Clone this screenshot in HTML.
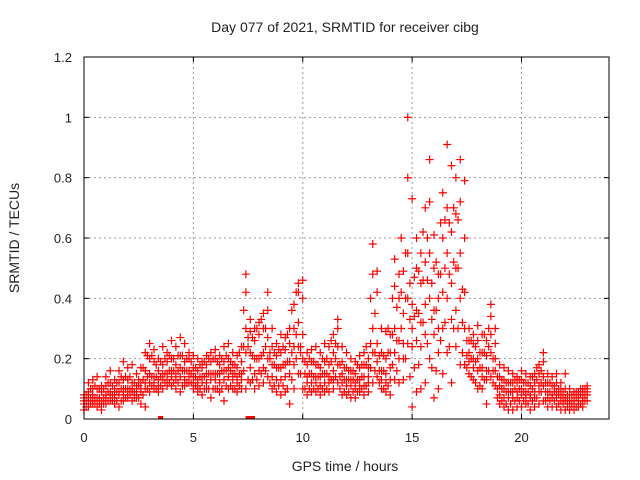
<!DOCTYPE html>
<html><head><meta charset="utf-8"><style>
html,body{margin:0;padding:0;background:#fff;width:640px;height:480px;overflow:hidden}
text{font-family:"Liberation Sans",sans-serif;fill:#222}
</style></head><body>
<svg id="chart" width="640" height="480" xmlns="http://www.w3.org/2000/svg">
<text x="345" y="32" font-size="14" text-anchor="middle">Day 077 of 2021, SRMTID for receiver cibg</text>
<text x="345" y="471" font-size="14" text-anchor="middle">GPS time / hours</text>
<text x="19" y="238" font-size="14" text-anchor="middle" transform="rotate(-90 19 238)">SRMTID / TECUs</text>
<g id="grid"></g>
<g id="ticks"></g>
<g id="marks"></g>
<rect x="84" y="57" width="525" height="362" fill="none" stroke="#000" stroke-width="1"/>
</svg>
<script>
const xTicks = [0, 5, 10, 15, 20];
const yTicks = [0, 0.2, 0.4, 0.6, 0.8, 1, 1.2];
const hours = [0,0.2,0.4,0.6,0.8,1,1.2,1.4,1.6,1.8,2,2.2,2.4,2.6,2.8,3,3.2,3.4,3.6,3.8,4,4.2,4.4,4.6,4.8,5,5.2,5.4,5.6,5.8,6,6.2,6.4,6.6,6.8,7,7.2,7.4,7.6,7.8,8,8.2,8.4,8.6,8.8,9,9.2,9.4,9.6,9.8,10,10.2,10.4,10.6,10.8,11,11.2,11.4,11.6,11.8,12,12.2,12.4,12.6,12.8,13,13.2,13.4,13.6,13.8,14,14.2,14.4,14.6,14.8,15,15.2,15.4,15.6,15.8,16,16.2,16.4,16.6,16.8,17,17.2,17.4,17.6,17.8,18,18.2,18.4,18.6,18.8,19,19.2,19.4,19.6,19.8,20,20.2,20.4,20.6,20.8,21,21.2,21.4,21.6,21.8,22,22.2,22.4,22.6,22.8,23];
const valsHigh = [.08,.12,.13,.14,.11,.14,.16,.13,.16,.19,.17,.18,.15,.17,.22,.25,.23,.20,.24,.22,.26,.24,.27,.25,.22,.21,.20,.19,.21,.22,.23,.21,.24,.25,.22,.21,.24,.48,.33,.30,.32,.35,.42,.30,.25,.28,.27,.30,.38,.45,.46,.22,.23,.24,.22,.25,.24,.28,.33,.24,.22,.20,.19,.21,.22,.20,.58,.49,.30,.29,.28,.53,.48,.49,1.0,.73,.60,.55,.70,.86,.61,.48,.75,.91,.84,.80,.86,.79,.30,.28,.31,.28,.26,.38,.30,.18,.17,.16,.15,.14,.16,.15,.14,.15,.18,.22,.15,.14,.15,.12,.15,.10,.09,.09,.10,.11];
const valsUpper = [.07,.09,.10,.10,.09,.11,.12,.10,.12,.13,.13,.12,.11,.12,.16,.20,.19,.16,.18,.19,.20,.18,.21,.19,.20,.17,.16,.17,.18,.19,.20,.18,.19,.20,.18,.17,.19,.42,.29,.26,.28,.30,.36,.24,.21,.22,.23,.25,.30,.42,.40,.18,.19,.18,.17,.19,.18,.22,.30,.19,.17,.16,.15,.17,.18,.17,.48,.42,.22,.20,.22,.44,.40,.35,.80,.38,.50,.45,.52,.72,.50,.40,.60,.70,.62,.68,.72,.60,.26,.25,.26,.22,.21,.34,.25,.14,.13,.12,.12,.12,.13,.12,.11,.12,.15,.19,.12,.11,.12,.10,.10,.08,.08,.08,.09,.10];
const valsMid = [.06,.07,.08,.07,.06,.08,.09,.08,.09,.10,.10,.10,.09,.10,.12,.15,.14,.13,.15,.15,.16,.15,.17,.16,.16,.14,.13,.14,.15,.15,.15,.15,.16,.17,.15,.14,.15,.30,.22,.20,.20,.22,.27,.18,.17,.17,.18,.19,.24,.32,.28,.14,.15,.14,.14,.15,.14,.16,.24,.15,.13,.13,.12,.13,.14,.14,.30,.25,.16,.15,.17,.30,.26,.25,.55,.30,.36,.32,.38,.55,.36,.30,.42,.55,.45,.50,.55,.42,.22,.20,.20,.17,.16,.28,.20,.11,.10,.09,.09,.09,.10,.09,.08,.09,.11,.14,.09,.08,.09,.08,.07,.06,.06,.06,.07,.09];
const valsLower = [.05,.06,.06,.06,.05,.07,.08,.07,.08,.08,.09,.09,.08,.09,.10,.12,.12,.11,.13,.13,.14,.13,.14,.13,.14,.12,.11,.12,.12,.13,.13,.12,.13,.14,.13,.12,.13,.22,.17,.15,.16,.17,.20,.14,.13,.13,.14,.15,.18,.24,.20,.12,.12,.12,.11,.12,.12,.13,.18,.12,.11,.11,.10,.11,.11,.12,.22,.19,.13,.12,.13,.22,.20,.20,.40,.24,.26,.24,.28,.40,.28,.22,.30,.40,.33,.36,.40,.30,.19,.17,.16,.14,.13,.22,.16,.08,.07,.07,.07,.07,.08,.07,.07,.07,.09,.11,.07,.07,.07,.06,.06,.05,.05,.05,.06,.08];
const valsLow = [.03,.04,.05,.04,.03,.05,.06,.05,.04,.06,.07,.06,.07,.05,.04,.09,.10,.09,.10,.11,.11,.10,.09,.11,.12,.10,.09,.08,.10,.07,.10,.09,.06,.10,.10,.09,.10,.10,.12,.10,.11,.12,.14,.10,.09,.08,.09,.05,.10,.15,.10,.08,.09,.09,.08,.09,.09,.10,.12,.08,.08,.07,.07,.09,.08,.09,.12,.14,.10,.09,.08,.13,.12,.13,.25,.04,.09,.10,.12,.20,.07,.10,.15,.22,.12,.24,.18,.18,.15,.13,.10,.10,.05,.14,.11,.05,.04,.03,.03,.04,.04,.05,.03,.04,.05,.06,.04,.04,.04,.03,.03,.03,.03,.04,.04,.06];
const hoursOdd = [0.1,0.3,0.5,0.7,0.9,1.1,1.3,1.5,1.7,1.9,2.1,2.3,2.5,2.7,2.9,3.1,3.3,3.5,3.7,3.9,4.1,4.3,4.5,4.7,4.9,5.1,5.3,5.5,5.7,5.9,6.1,6.3,6.5,6.7,6.9,7.1,7.3,7.5,7.7,7.9,8.1,8.3,8.5,8.7,8.9,9.1,9.3,9.5,9.7,9.9,10.1,10.3,10.5,10.7,10.9,11.1,11.3,11.5,11.7,11.9,12.1,12.3,12.5,12.7,12.9,13.1,13.3,13.5,13.7,13.9,14.1,14.3,14.5,14.7,14.9,15.1,15.3,15.5,15.7,15.9,16.1,16.3,16.5,16.7,16.9,17.1,17.3,17.5,17.7,17.9,18.1,18.3,18.5,18.7,18.9,19.1,19.3,19.5,19.7,19.9,20.1,20.3,20.5,20.7,20.9,21.1,21.3,21.5,21.7,21.9,22.1,22.3,22.5,22.7,22.9];
const oddUpper = [.08,.10,.11,.10,.10,.12,.11,.12,.14,.14,.14,.12,.13,.17,.21,.21,.18,.19,.20,.21,.20,.21,.21,.20,.19,.17,.18,.19,.20,.20,.19,.20,.21,.19,.18,.22,.36,.27,.27,.30,.33,.30,.22,.22,.23,.24,.28,.36,.42,.24,.19,.20,.19,.18,.20,.20,.26,.25,.18,.17,.16,.16,.18,.18,.24,.40,.35,.21,.21,.30,.40,.37,.60,.55,.45,.47,.49,.62,.60,.45,.52,.65,.66,.65,.70,.66,.43,.26,.26,.24,.22,.28,.30,.20,.14,.13,.12,.12,.13,.13,.12,.12,.14,.17,.16,.12,.12,.11,.10,.09,.08,.08,.09,.10,.10];
const oddMid = [.06,.07,.07,.07,.07,.09,.08,.09,.10,.10,.10,.09,.11,.13,.14,.14,.14,.14,.15,.16,.16,.16,.16,.16,.15,.14,.14,.14,.15,.15,.15,.16,.16,.16,.15,.15,.24,.24,.21,.20,.21,.24,.20,.18,.17,.18,.19,.22,.28,.22,.15,.15,.14,.14,.15,.15,.19,.20,.14,.13,.13,.13,.13,.14,.18,.25,.22,.16,.16,.22,.28,.26,.42,.40,.33,.34,.35,.46,.46,.33,.36,.48,.50,.48,.52,.50,.32,.21,.20,.19,.17,.22,.24,.16,.10,.10,.09,.09,.10,.10,.09,.09,.10,.13,.12,.09,.09,.09,.08,.07,.06,.06,.07,.08,.08];
const oddLow = [.04,.05,.05,.05,.05,.06,.06,.06,.06,.07,.08,.07,.07,.08,.10,.11,.10,.11,.12,.12,.12,.12,.11,.12,.12,.11,.10,.10,.10,.10,.10,.10,.11,.11,.10,.11,.16,.13,.13,.13,.15,.16,.12,.11,.11,.11,.10,.13,.20,.15,.10,.10,.10,.10,.10,.10,.13,.14,.10,.09,.09,.09,.09,.10,.11,.17,.16,.12,.10,.11,.18,.16,.30,.20,.14,.17,.18,.32,.25,.17,.16,.26,.32,.24,.30,.30,.22,.17,.14,.12,.11,.13,.16,.12,.07,.06,.05,.05,.06,.06,.06,.05,.06,.07,.09,.06,.06,.06,.05,.05,.04,.04,.04,.05,.06];
const zeroHours = [3.5, 7.5, 7.7];

const X0=84, X1=609, Y0=419, Y1=57;
function xs(h){ return X0 + (h/24)*(X1-X0); }
function ys(v){ return Y0 - (v/1.2)*(Y0-Y1); }
const NS='http://www.w3.org/2000/svg';
const grid=document.getElementById('grid'), ticks=document.getElementById('ticks'), marks=document.getElementById('marks');
function mk(tag, attrs, parent){ const e=document.createElementNS(NS,tag); for(const k in attrs) e.setAttribute(k,attrs[k]); parent.appendChild(e); return e; }

xTicks.forEach(t=>{
  const x=xs(t);
  if(t>0){ const g=mk('line',{x1:x,y1:Y1,x2:x,y2:Y0,stroke:'#999','stroke-dasharray':'2,3'},grid);
    
     }
  mk('line',{x1:x,y1:Y0,x2:x,y2:Y0-5,stroke:'#000'},ticks);
  mk('line',{x1:x,y1:Y1,x2:x,y2:Y1+5,stroke:'#000'},ticks);
  const l=mk('text',{x:x,y:Y0+23,'font-size':13,'text-anchor':'middle'},ticks);
  l.textContent=t;
  
  
});
yTicks.forEach(t=>{
  const y=ys(t);
  if(t>0 && t<1.2){ const g=mk('line',{x1:X0,y1:y,x2:X1,y2:y,stroke:'#999','stroke-dasharray':'2,3'},grid);
    
     }
  mk('line',{x1:X0,y1:y,x2:X0+5,y2:y,stroke:'#000'},ticks);
  mk('line',{x1:X1,y1:y,x2:X1-5,y2:y,stroke:'#000'},ticks);
  const l=mk('text',{x:X0-12,y:y+5,'font-size':13,'text-anchor':'end'},ticks);
  l.textContent=t;
  
  
});

function drawSeries(hrs, vals){
  hrs.forEach((h,i)=>{
    const x=xs(h), y=ys(vals[i]);
    const p=mk('path',{d:`M${x-4},${y}H${x+4}M${x},${y-4}V${y+4}`,stroke:'#f00','stroke-width':1.2,fill:'none'},marks);
    
    
  });
}
[valsLow,valsLower,valsMid,valsUpper,valsHigh].forEach(v=>drawSeries(hours,v));
[oddLow,oddMid,oddUpper].forEach(v=>drawSeries(hoursOdd,v));
zeroHours.forEach(h=>{
  const r=mk('rect',{x:xs(h)-2.5,y:Y0-3,width:5,height:3,fill:'#f00'},marks);
  
  
});
</script>
</body></html>
